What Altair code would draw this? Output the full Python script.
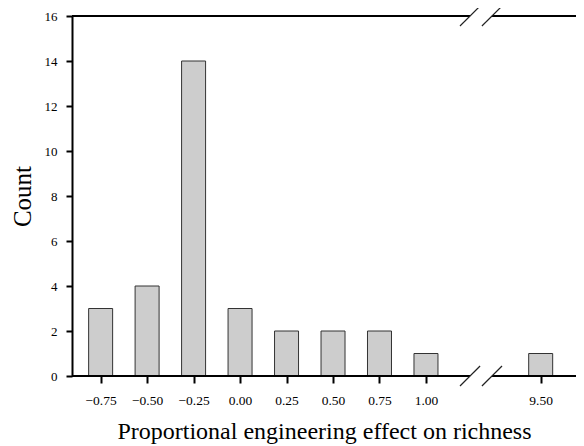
import altair as alt
import pandas as pd

# ---- data ----
bin_centers = [-0.75, -0.50, -0.25, 0.00, 0.25, 0.50, 0.75, 1.00, 9.50]
counts = [3, 4, 14, 3, 2, 2, 2, 1, 1]
y_ticks = [0, 2, 4, 6, 8, 10, 12, 14, 16]

# ---- broken x axis: values above BREAK_AFTER are drawn shifted left by BREAK_SHIFT ----
BREAK_AFTER = 1.1
BREAK_SHIFT = 7.883
GAP_LO, GAP_HI = 1.237, 1.355
X_MIN, X_MAX = -0.904, 1.807
Y_MAX = 16
SLASH_DX, SLASH_DY = 0.054, 0.444

FONT = "Liberation Serif"
X_TITLE = "Proportional engineering effect on richness"
Y_TITLE = "Count"

bars_df = pd.DataFrame({"value": bin_centers, "count": counts})
tick_vals = [v if v <= BREAK_AFTER else round(v - BREAK_SHIFT, 3) for v in bin_centers]

x_scale = alt.Scale(domain=[X_MIN, X_MAX], nice=False, zero=False, padding=0)
y_scale = alt.Scale(domain=[0, Y_MAX], nice=False, padding=0)

label_expr = (
    f"datum.value > {BREAK_AFTER} ? format(datum.value + {BREAK_SHIFT}, '.2f') "
    f": format(datum.value, '.2f')"
)

x_axis = alt.Axis(
    values=tick_vals,
    labelExpr=label_expr,
    domain=False,
    tickSize=7,
    labelPadding=10.5,
    labelFontSize=13.5,
    labelFlush=False,
    titleFontSize=24,
    titlePadding=12,
)
y_axis = alt.Axis(
    values=y_ticks,
    tickSize=6,
    labelPadding=9,
    labelFontSize=13,
    titleFontSize=25,
    titlePadding=9,
)

bars = (
    alt.Chart(bars_df)
    .transform_calculate(
        disp=f"datum.value > {BREAK_AFTER} ? datum.value - {BREAK_SHIFT} : datum.value"
    )
    .mark_bar(size=24, fill="#cdcdcd", stroke="#333333", strokeWidth=1)
    .encode(
        x=alt.X("disp:Q", scale=x_scale, title=X_TITLE, axis=x_axis),
        y=alt.Y("count:Q", scale=y_scale, title=Y_TITLE, axis=y_axis),
    )
)

# frame lines (bottom and top) interrupted at the break
lines_df = pd.DataFrame(
    {
        "x": [X_MIN, GAP_HI, X_MIN, GAP_HI],
        "x2": [GAP_LO, X_MAX, GAP_LO, X_MAX],
        "y": [0, 0, Y_MAX, Y_MAX],
    }
)
frame = (
    alt.Chart(lines_df)
    .mark_rule(color="black", strokeWidth=2)
    .encode(
        x=alt.X("x:Q", scale=x_scale, title=X_TITLE, axis=x_axis),
        x2="x2:Q",
        y=alt.Y("y:Q", scale=y_scale, title=Y_TITLE, axis=y_axis),
    )
)

# break slashes
sl_x, sl_x2, sl_y, sl_y2 = [], [], [], []
for g in (GAP_LO, GAP_HI):
    for yy in (0, Y_MAX):
        sl_x.append(g - SLASH_DX)
        sl_x2.append(g + SLASH_DX)
        sl_y.append(yy - SLASH_DY)
        sl_y2.append(yy + SLASH_DY)
slash_df = pd.DataFrame({"x": sl_x, "x2": sl_x2, "y": sl_y, "y2": sl_y2})
slashes = (
    alt.Chart(slash_df)
    .mark_rule(color="#222222", strokeWidth=1.2)
    .encode(
        x=alt.X("x:Q", scale=x_scale, title=X_TITLE, axis=x_axis),
        x2="x2:Q",
        y=alt.Y("y:Q", scale=y_scale, title=Y_TITLE, axis=y_axis),
        y2="y2:Q",
    )
)

chart = (
    alt.layer(bars, frame, slashes)
    .properties(
        width=504,
        height=360,
        autosize=alt.AutoSizeParams(type="none"),
        padding={"left": 64, "top": 8, "right": 0, "bottom": 68},
    )
    .configure_axis(
        labelFont=FONT,
        titleFont=FONT,
        titleFontWeight="normal",
        labelColor="black",
        titleColor="black",
        tickColor="black",
        tickWidth=2,
        domainColor="black",
        domainWidth=2,
        grid=False,
    )
    .configure_view(stroke=None)
)

chart.save("out.html", embed_options={"renderer": "svg", "actions": False})
